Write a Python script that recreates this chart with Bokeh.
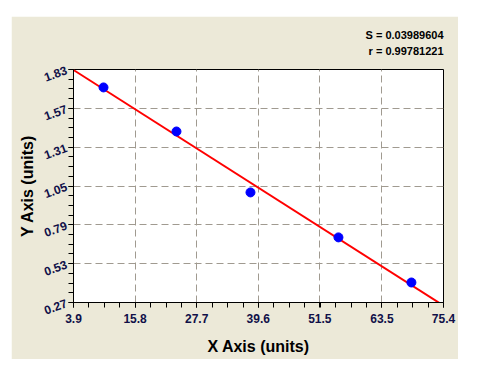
import numpy as np
from bokeh.plotting import figure
from bokeh.models import Range1d, FixedTicker, Title
from bokeh.embed import file_html
from bokeh.resources import INLINE

# data
x_vals = [9.7, 23.8, 38.1, 55.1, 69.2]
y_vals = [1.71, 1.415, 1.007, 0.706, 0.404]
x_ticks = [3.9, 15.8, 27.7, 39.6, 51.5, 63.5, 75.4]
y_ticks = [0.27, 0.53, 0.79, 1.05, 1.31, 1.57, 1.83]
stat_s = "S = 0.03989604"
stat_r = "r = 0.99781221"

BG = "#ECE9D8"
LBL = "#101048"
FONT = "Liberation Sans"

p = figure(width=447, height=343, output_backend="svg", toolbar_location=None,
           x_range=Range1d(x_ticks[0], x_ticks[-1]), y_range=Range1d(y_ticks[0], y_ticks[-1]),
           min_border_left=62, min_border_right=15, min_border_bottom=57, min_border_top=53)
p.margin = (16, 0, 0, 11)
p.border_fill_color = BG
p.background_fill_color = "white"
p.outline_line_color = "black"
p.outline_line_width = 1

p.add_layout(Title(text=" ", text_font_size="9px", offset=0, standoff=0), "above")
for txt in [stat_r, stat_s]:
    t = Title(text=txt, align="right", text_font=FONT, text_font_size="11px",
              text_font_style="bold", text_color="black", offset=0, standoff=2)
    p.add_layout(t, "above")

# axes
p.xaxis.ticker = FixedTicker(ticks=x_ticks, minor_ticks=list(np.linspace(x_ticks[0], x_ticks[-1], 25)))
p.yaxis.ticker = FixedTicker(ticks=y_ticks, minor_ticks=list(np.linspace(y_ticks[0], y_ticks[-1], 25)))
p.xaxis.major_label_overrides = {v: f"{v:.1f}" for v in x_ticks}
p.yaxis.major_label_overrides = {v: f"{v:.2f}" for v in y_ticks}
for ax in (p.xaxis, p.yaxis):
    ax.axis_line_color = "black"
    ax.major_tick_line_color = "black"
    ax.minor_tick_line_color = "black"
    ax.major_tick_in = 0
    ax.major_tick_out = 5
    ax.minor_tick_in = 0
    ax.minor_tick_out = 5
    ax.major_label_text_font = FONT
    ax.major_label_text_font_style = "bold"
    ax.major_label_text_font_size = "12px"
    ax.major_label_text_color = LBL
    ax.axis_label_text_font = FONT
    ax.axis_label_text_font_style = "bold"
    ax.axis_label_text_font_size = "16px"
    ax.axis_label_text_color = "black"
p.xaxis.axis_label = "X Axis (units)"
p.yaxis.axis_label = "Y Axis (units)"
p.yaxis.major_label_orientation = 0.35
p.xaxis.major_label_standoff = 6
p.xaxis.axis_label_standoff = 12
p.yaxis.major_label_standoff = 2
p.yaxis.axis_label_standoff = 2

p.xgrid.ticker = FixedTicker(ticks=x_ticks)
p.ygrid.ticker = FixedTicker(ticks=y_ticks)
p.grid.grid_line_color = "#a09a90"
p.grid.grid_line_dash = "7 4"
p.grid.grid_line_width = 1

# fit line
slope, intercept = np.polyfit(x_vals, y_vals, 1)
lx = np.array([x_ticks[0], x_ticks[-1]])
p.line(lx, slope * lx + intercept, line_color="red", line_width=2)

p.scatter(x_vals, y_vals, size=9, color="blue")

open("out.html", "w").write(file_html(p, INLINE))
